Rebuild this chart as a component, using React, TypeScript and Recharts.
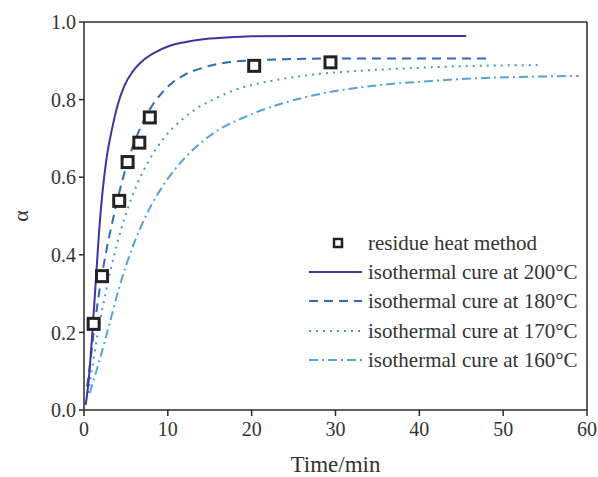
import React from 'react';
import { ComposedChart, Line, Scatter, XAxis, YAxis, ReferenceLine, Legend } from 'recharts';

const t200 = [0.2, 0.56, 1.0, 1.4, 1.8, 2.2, 2.7, 3.3, 4.0, 4.8, 5.8, 7.0, 8.5, 10, 12, 14, 17, 20, 25, 35, 45.6];
const a200 = [0.013, 0.077, 0.2, 0.33, 0.46, 0.56, 0.65, 0.72, 0.785, 0.835, 0.872, 0.9, 0.922, 0.937, 0.948, 0.955, 0.96, 0.963, 0.964, 0.964, 0.964];

const t180 = [0.36, 0.7, 1.27, 1.86, 2.66, 3.44, 4.2, 5.0, 6.0, 7.0, 8.0, 9.2, 10.5, 12, 14, 16, 18, 20, 24, 30, 40, 48.3];
const a180 = [0.06, 0.115, 0.22, 0.31, 0.41, 0.49, 0.56, 0.625, 0.69, 0.74, 0.78, 0.815, 0.843, 0.864, 0.881, 0.892, 0.898, 0.901, 0.904, 0.906, 0.906, 0.906];

const t170 = [0.47, 0.88, 1.66, 2.66, 3.84, 5.0, 6.4, 7.8, 9.5, 11.5, 13.5, 15.7, 18, 20.5, 23.6, 27.6, 33.5, 40, 47, 54.1];
const a170 = [0.044, 0.095, 0.2, 0.31, 0.42, 0.505, 0.585, 0.645, 0.7, 0.745, 0.778, 0.803, 0.825, 0.84, 0.853, 0.865, 0.875, 0.882, 0.887, 0.889];

const t160 = [0.68, 1.86, 3.05, 4.23, 5.8, 7.6, 9.8, 11.7, 14.9, 19.7, 23.6, 27.6, 33.5, 41.4, 47, 53.2, 59];
const a160 = [0.044, 0.129, 0.223, 0.318, 0.42, 0.51, 0.59, 0.642, 0.705, 0.76, 0.79, 0.812, 0.833, 0.848, 0.855, 0.859, 0.861];

const tExp = [1.15, 2.15, 4.2, 5.2, 6.6, 7.85, 20.3, 29.4];
const aExp = [0.222, 0.345, 0.539, 0.639, 0.689, 0.754, 0.887, 0.896];

const xTicks = [0, 10, 20, 30, 40, 50, 60];
const yTicks = [0, 0.2, 0.4, 0.6, 0.8, 1.0];

const legendLabels = [
  'residue heat method',
  'isothermal cure at 200°C',
  'isothermal cure at 180°C',
  'isothermal cure at 170°C',
  'isothermal cure at 160°C',
];

const zip = (ts: number[], as: number[]) => ts.map((t, i) => ({ t, a: as[i] }));

const d200 = zip(t200, a200);
const d180 = zip(t180, a180);
const d170 = zip(t170, a170);
const d160 = zip(t160, a160);
const dExp = zip(tExp, aExp);

const FONT = '"Liberation Serif", "Times New Roman", serif';
const C200 = '#3d35a2';
const C180 = '#2c6db3';
const C170 = '#4896d6';
const C160 = '#56a3d8';
const AXIS = '#2a2a2a';

const styles = [
  { color: C200, dash: undefined as string | undefined },
  { color: C180, dash: '9 6' },
  { color: C170, dash: '2 5' },
  { color: C160, dash: '9 4 2 4' },
];

const SquareShape = (props: any) => {
  const { cx, cy } = props;
  if (cx == null || cy == null) return null;
  return <rect x={cx - 5.5} y={cy - 5.5} width={11} height={11} fill="#fff" stroke="#222" strokeWidth={3} />;
};

const LegendContent = () => {
  const ys = [17, 46, 75, 105, 134];
  return (
    <svg width={290} height={150} style={{ display: 'block' }}>
      <rect x={34} y={ys[0] - 4} width={8} height={8} fill="#fff" stroke="#222" strokeWidth={2.5} />
      {styles.map((s, i) => (
        <line key={i} x1={9} x2={62} y1={ys[i + 1]} y2={ys[i + 1]} stroke={s.color} strokeWidth={2} strokeDasharray={s.dash} />
      ))}
      {legendLabels.map((l, i) => (
        <text key={l} x={68} y={ys[i] + 7} fontFamily={FONT} fontSize={21} fill="#333">{l}</text>
      ))}
    </svg>
  );
};

const tickStyle = { fontFamily: FONT, fontSize: 20, fill: '#333' };

export default function App() {
  return (
    <div style={{ position: 'absolute', left: 0, top: 0, width: 598, height: 477, background: '#fff', fontFamily: FONT }}>
      <ComposedChart width={598} height={477} margin={{ top: 22, right: 11, bottom: 0, left: 0 }} style={{ fontFamily: FONT }}>
        <XAxis
          type="number"
          dataKey="t"
          domain={[0, 60]}
          ticks={xTicks}
          allowDataOverflow
          height={67}
          tickSize={6}
          tickMargin={6}
          stroke={AXIS}
          strokeWidth={1.5}
          tick={{ ...tickStyle, style: { fontFamily: FONT } } as any}
          label={(p: any) => {
            const vb = p.viewBox;
            return (
              <text x={vb.x + vb.width / 2} y={472} textAnchor="middle" fontFamily={FONT} fontSize={23} fill="#333">Time/min</text>
            );
          }}
        />
        <YAxis
          type="number"
          domain={[0, 1]}
          ticks={yTicks}
          width={84}
          tickSize={5}
          tickMargin={3}
          stroke={AXIS}
          strokeWidth={1.5}
          tickFormatter={(v: number) => v.toFixed(1)}
          tick={{ ...tickStyle, style: { fontFamily: FONT } } as any}
          label={(p: any) => {
            const vb = p.viewBox;
            const cx = 20;
            const cy = vb.y + vb.height / 2;
            return (
              <text x={cx} y={cy} transform={`rotate(-90, ${cx}, ${cy})`} textAnchor="middle" dominantBaseline="central" fontFamily={FONT} fontSize={22} fill="#333">α</text>
            );
          }}
        />
        <ReferenceLine y={1} stroke={AXIS} strokeWidth={1.5} ifOverflow="extendDomain" />
        <ReferenceLine x={60} stroke={AXIS} strokeWidth={1.5} ifOverflow="extendDomain" />
        <Line data={d160} dataKey="a" type="monotone" stroke={C160} strokeWidth={2} strokeDasharray="9 4 2 4" dot={false} isAnimationActive={false} />
        <Line data={d170} dataKey="a" type="monotone" stroke={C170} strokeWidth={2} strokeDasharray="2 5" dot={false} isAnimationActive={false} />
        <Line data={d180} dataKey="a" type="monotone" stroke={C180} strokeWidth={2} strokeDasharray="9 6" dot={false} isAnimationActive={false} />
        <Line data={d200} dataKey="a" type="monotone" stroke={C200} strokeWidth={2} dot={false} isAnimationActive={false} />
        <Scatter data={dExp} dataKey="a" shape={SquareShape} isAnimationActive={false} />
        <Legend
          layout="vertical"
          align="center"
          verticalAlign="middle"
          content={LegendContent}
          wrapperStyle={{ position: 'absolute', left: 300, top: 226, width: 290, height: 150 }}
        />
      </ComposedChart>
    </div>
  );
}
